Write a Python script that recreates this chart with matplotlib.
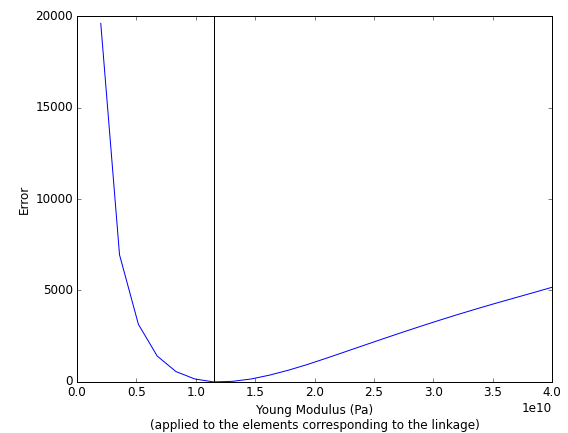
import matplotlib
matplotlib.use("Agg")
import matplotlib.pyplot as plt
import numpy as np

# Young modulus values tested (Pa) and the resulting error
young_modulus = np.array([
    0.200e10, 0.358e10, 0.517e10, 0.675e10, 0.833e10, 0.992e10, 1.150e10,
    1.308e10, 1.467e10, 1.625e10, 1.783e10, 1.942e10, 2.100e10, 2.258e10,
    2.417e10, 2.575e10, 2.733e10, 2.892e10, 3.050e10, 3.208e10, 3.367e10,
    3.525e10, 3.683e10, 3.842e10, 4.000e10,
])
error = np.array([
    19600, 6950, 3150, 1420, 570, 165, 5,
    35, 165, 380, 650, 960, 1300, 1650,
    2005, 2355, 2700, 3040, 3370, 3690, 4000,
    4300, 4590, 4880, 5175,
])
best_modulus = young_modulus[np.argmin(error)]

plt.style.use("classic")
fig = plt.figure(figsize=(568 / 72, 433 / 72), dpi=72, facecolor="white")
ax = fig.add_axes([0.1356, 0.1178, 0.8362, 0.8452])

ax.plot(young_modulus, error, color="blue", linewidth=1.0)
ax.axvline(best_modulus, color="black", linewidth=1.0)

ax.set_xlim(0, 4e10)
ax.set_ylim(0, 20000)
ax.set_xlabel("Young Modulus (Pa)\n(applied to the elements corresponding to the linkage)")
ax.set_ylabel("Error")

fig.savefig("out.png", dpi=72, facecolor="white")
